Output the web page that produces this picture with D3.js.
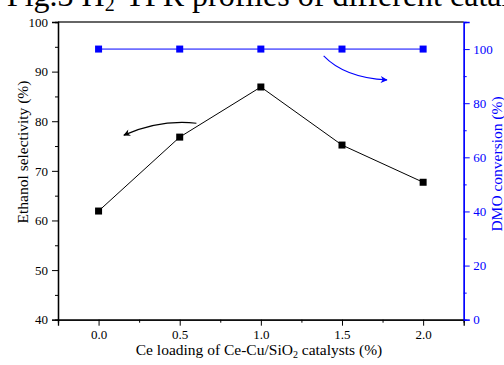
<!DOCTYPE html>
<html>
<head>
<meta charset="utf-8">
<script src="https://cdn.jsdelivr.net/npm/d3@7"></script>
<style>
  body { margin: 0; background: #fff; }
  text { font-family: "Liberation Serif", "Times New Roman", serif; }
</style>
</head>
<body>
<div id="chart"></div>
<script>
// data
const ceLoading = [0.0, 0.5, 1.0, 1.5, 2.0];
const ethanolSelectivity = [61.9, 76.8, 86.9, 75.2, 67.7];
const dmoConversion = [100, 100, 100, 100, 100];
const xTicks = [0.0, 0.5, 1.0, 1.5, 2.0];
const leftTicks = [40, 50, 60, 70, 80, 90, 100];
const rightTicks = [0, 20, 40, 60, 80, 100];

const width = 504, height = 365;
const margin = {top: 22, right: 40.3, bottom: 45.3, left: 58};
const blue = "#0000ff";
const serif = "'Liberation Serif', 'Times New Roman', serif";

const svg = d3.select("#chart").append("svg")
  .attr("width", width)
  .attr("height", height);

// caption cut off at the top of the picture
svg.append("text")
  .attr("x", 184).attr("y", 6)
  .attr("text-anchor", "end")
  .style("font-size", "32px")
  .html('Fig.3 H<tspan dy="5" style="font-size:20px">2</tspan><tspan dy="-5">-TPR</tspan>');
svg.append("text")
  .attr("x", 192).attr("y", 6)
  .style("font-size", "32px")
  .text("profiles of different catalysts");

const x = d3.scaleLinear()
  .domain([-0.25, 2.25])
  .range([margin.left, width - margin.right]);
const yL = d3.scaleLinear()
  .domain([40, 100])
  .range([height - margin.bottom, margin.top]);
const yR = d3.scaleLinear()
  .domain([0, 110])
  .range([height - margin.bottom, margin.top]);

const bottom = height - margin.bottom;

// top frame
svg.append("line")
  .attr("x1", x.range()[0]).attr("x2", x.range()[1])
  .attr("y1", margin.top).attr("y2", margin.top)
  .attr("stroke", "#333").attr("stroke-width", 1.3);

function styleAxis(g, color) {
  g.attr("font-family", serif).attr("font-size", 13);
  g.select(".domain").attr("stroke", color).attr("stroke-width", 1.3);
  g.selectAll(".tick line").attr("stroke", color).attr("stroke-width", 1);
  g.selectAll(".tick text")
    .attr("fill", color)
    .style("font-size", "13px")
    .style("font-family", serif);
}

// minor ticks first so the domain lines sit on top
svg.append("g")
  .attr("transform", "translate(0," + bottom + ")")
  .call(d3.axisBottom(x).tickValues([0.25, 0.75, 1.25, 1.75]).tickSize(3).tickFormat(""))
  .call(g => styleAxis(g, "#000"));
svg.append("g")
  .attr("transform", "translate(" + margin.left + ",0)")
  .call(d3.axisLeft(yL).tickValues([45, 55, 65, 75, 85, 95]).tickSize(3).tickFormat(""))
  .call(g => styleAxis(g, "#000"));
svg.append("g")
  .attr("transform", "translate(" + (width - margin.right) + ",0)")
  .call(d3.axisRight(yR).tickValues([10, 30, 50, 70, 90, 110]).tickSize(3).tickFormat(""))
  .call(g => styleAxis(g, blue));

// major axes
svg.append("g")
  .attr("transform", "translate(0," + bottom + ")")
  .call(d3.axisBottom(x).tickValues(xTicks).tickSize(6).tickPadding(4).tickFormat(d3.format(".1f")))
  .call(g => styleAxis(g, "#000"));
svg.append("g")
  .attr("transform", "translate(" + margin.left + ",0)")
  .call(d3.axisLeft(yL).tickValues(leftTicks).tickSize(6).tickPadding(4))
  .call(g => styleAxis(g, "#000"));
svg.append("g")
  .attr("transform", "translate(" + (width - margin.right) + ",0)")
  .call(d3.axisRight(yR).tickValues(rightTicks).tickSize(6).tickPadding(3.5))
  .call(g => styleAxis(g, blue));

// axis titles
svg.append("text")
  .attr("x", 259).attr("y", 355)
  .attr("text-anchor", "middle")
  .style("font-size", "15.5px")
  .html('Ce loading of Ce-Cu/SiO<tspan dy="3" style="font-size:10px">2</tspan><tspan dy="-3"> catalysts (%)</tspan>');
svg.append("text")
  .attr("transform", "translate(28,152) rotate(-90)")
  .attr("text-anchor", "middle")
  .style("font-size", "15.5px")
  .text("Ethanol selectivity (%)");
svg.append("text")
  .attr("transform", "translate(502,164) rotate(-90)")
  .attr("text-anchor", "middle")
  .attr("fill", blue)
  .style("font-size", "15.5px")
  .text("DMO conversion (%)");

// series
const sel = ceLoading.map((c, i) => ({x: c, y: ethanolSelectivity[i]}));
const conv = ceLoading.map((c, i) => ({x: c, y: dmoConversion[i]}));

svg.append("path")
  .datum(conv)
  .attr("fill", "none")
  .attr("stroke", blue)
  .attr("stroke-width", 1)
  .attr("d", d3.line().x(d => x(d.x)).y(d => yR(d.y)));
svg.selectAll(".conv")
  .data(conv)
  .enter().append("rect")
  .attr("class", "conv")
  .attr("x", d => x(d.x) - 3.5)
  .attr("y", d => yR(d.y) - 3.5)
  .attr("width", 7).attr("height", 7)
  .attr("fill", blue);

svg.append("path")
  .datum(sel)
  .attr("fill", "none")
  .attr("stroke", "#000")
  .attr("stroke-width", 1)
  .attr("d", d3.line().x(d => x(d.x)).y(d => yL(d.y)));
svg.selectAll(".sel")
  .data(sel)
  .enter().append("rect")
  .attr("class", "sel")
  .attr("x", d => x(d.x) - 3.5)
  .attr("y", d => yL(d.y) - 3.5)
  .attr("width", 7).attr("height", 7)
  .attr("fill", "#000");

// curved arrows pointing to each series' axis
const defs = svg.append("defs");
[["arrK", "#000"], ["arrB", blue]].forEach(([id, c]) => {
  defs.append("marker")
    .attr("id", id)
    .attr("viewBox", "0 0 10 10")
    .attr("refX", 9).attr("refY", 5)
    .attr("markerWidth", 9).attr("markerHeight", 7)
    .attr("markerUnits", "userSpaceOnUse")
    .attr("orient", "auto")
    .append("path")
    .attr("d", "M0,0 L10,5 L0,10 L3,5 Z")
    .attr("fill", c);
});

function curve(p0, c, p1) {
  const p = d3.path();
  p.moveTo(p0[0], p0[1]);
  p.quadraticCurveTo(c[0], c[1], p1[0], p1[1]);
  return p.toString();
}

svg.append("path")
  .attr("d", curve([x(0.603), yL(79.6)], [x(0.378), yL(80.4)], [x(0.156), yL(77.2)]))
  .attr("fill", "none").attr("stroke", "#000").attr("stroke-width", 1.1)
  .attr("marker-end", "url(#arrK)");
svg.append("path")
  .attr("d", curve([x(1.387), yR(97.5)], [x(1.517), yR(89.4)], [x(1.777), yR(88.6)]))
  .attr("fill", "none").attr("stroke", blue).attr("stroke-width", 1.1)
  .attr("marker-end", "url(#arrB)");
</script>
</body>
</html>
